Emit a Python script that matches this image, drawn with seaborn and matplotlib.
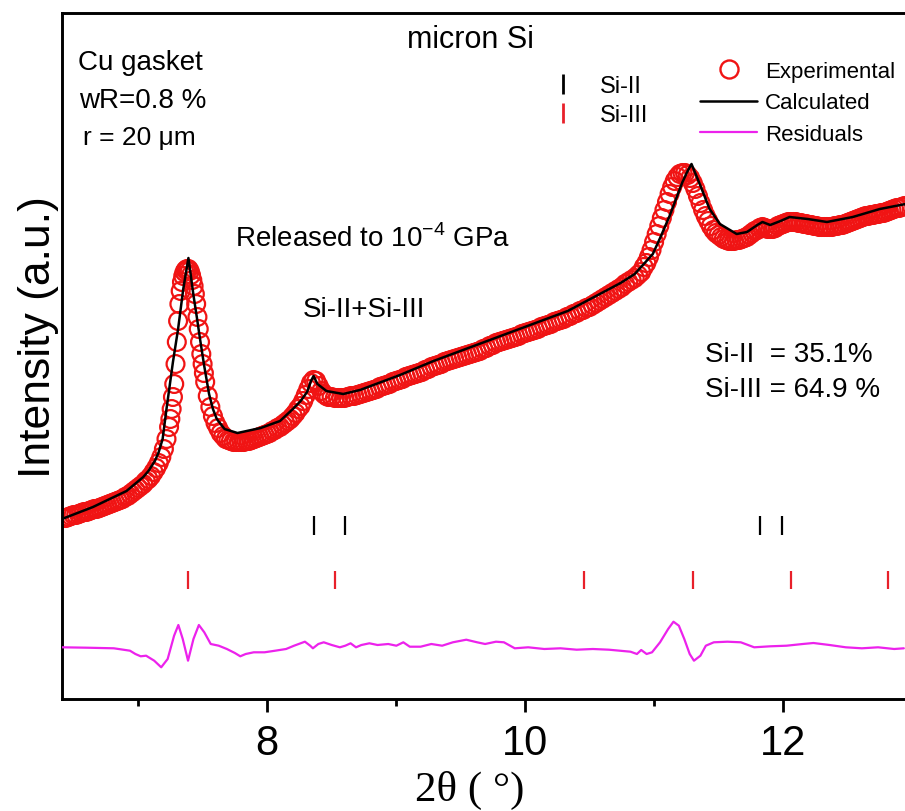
import matplotlib
matplotlib.use("Agg")
import matplotlib.pyplot as plt
import seaborn as sns
from matplotlib.lines import Line2D
from matplotlib.ticker import MultipleLocator

# ---------------- data ----------------
# Experimental pattern, read in segments (2theta in degrees, intensity in a.u.)
exp_theta_a = [6.42, 6.44, 6.46, 6.48, 6.50, 6.52, 6.54, 6.56, 6.58, 6.60, 6.62, 6.64, 6.66, 6.68,
               6.70, 6.72, 6.74, 6.76, 6.78, 6.80, 6.82, 6.84, 6.86, 6.88, 6.90, 6.92, 6.94, 6.96,
               6.98, 7.00, 7.02, 7.04, 7.06, 7.08, 7.10]
exp_int_a = [181, 181, 182, 183, 184, 184, 185, 186, 187, 187, 188, 189, 190, 190,
             191, 192, 193, 194, 195, 196, 197, 198, 199, 200, 202, 203, 205, 207,
             209, 211, 213, 215, 218, 220, 223]

exp_theta_b = [7.12, 7.14, 7.16, 7.18, 7.20, 7.22,
               7.24, 7.25, 7.26, 7.27, 7.28, 7.29, 7.30, 7.31, 7.32, 7.33, 7.34, 7.35, 7.36, 7.37,
               7.38, 7.39, 7.40, 7.41, 7.42, 7.43, 7.44, 7.45, 7.46, 7.47, 7.48, 7.49, 7.50, 7.51,
               7.52, 7.54, 7.56, 7.58, 7.60, 7.62, 7.64, 7.66, 7.68, 7.70]
exp_int_b = [227, 231, 236, 242, 250, 260,
             272, 280, 290, 302, 315, 335, 357, 378, 395, 408, 417, 423, 427, 429,
             430, 430, 428, 424, 419, 413, 405, 395, 382, 370, 357, 345, 335, 326,
             317, 303, 292, 283, 276, 271, 266, 263, 260, 259]

exp_theta_c = [7.72, 7.74, 7.76, 7.78, 7.80, 7.82, 7.84, 7.86, 7.88, 7.90, 7.92, 7.94, 7.96, 7.98,
               8.00, 8.02, 8.04, 8.06, 8.08, 8.10, 8.12, 8.14, 8.16, 8.18, 8.20, 8.22, 8.24]
exp_int_c = [258, 257, 257, 257, 257, 257, 258, 258, 259, 260, 261, 262, 263, 264,
             265, 266, 268, 269, 271, 272, 274, 276, 278, 280, 283, 286, 290]

exp_theta_d = [8.26, 8.28, 8.30, 8.32, 8.34, 8.36, 8.38, 8.40, 8.42, 8.44, 8.46]
exp_int_d = [293, 298, 304, 310, 316, 319, 318, 313, 308, 305, 303]

exp_theta_e = [8.475, 8.500, 8.525, 8.550, 8.575, 8.600, 8.625, 8.650, 8.675, 8.700,
               8.725, 8.750, 8.775, 8.800, 8.825, 8.850, 8.875, 8.900, 8.925, 8.950,
               8.975, 9.000, 9.025, 9.050, 9.075, 9.100, 9.125, 9.150, 9.175, 9.200,
               9.225, 9.250, 9.275, 9.300, 9.325, 9.350, 9.375, 9.400, 9.425, 9.450,
               9.475, 9.500, 9.525, 9.550, 9.575, 9.600, 9.625, 9.650, 9.675, 9.700,
               9.725, 9.750, 9.775, 9.800, 9.825, 9.850, 9.875, 9.900, 9.925, 9.950,
               9.975, 10.000, 10.025, 10.050, 10.075, 10.100, 10.125, 10.150, 10.175, 10.200,
               10.225, 10.250, 10.275, 10.300, 10.325, 10.350, 10.375, 10.400, 10.425, 10.450,
               10.475, 10.500, 10.525, 10.550, 10.575, 10.600, 10.625, 10.650, 10.675, 10.700,
               10.725, 10.750, 10.775, 10.800, 10.825, 10.850, 10.875, 10.900]
exp_int_e = [302, 302, 301, 301, 301, 301, 302, 303, 303, 304,
             305, 306, 307, 308, 309, 310, 312, 313, 314, 315,
             317, 318, 319, 320, 322, 323, 324, 325, 326, 327,
             329, 330, 332, 333, 334, 335, 337, 338, 339, 340,
             341, 342, 343, 344, 345, 346, 347, 348, 350, 351,
             353, 354, 356, 357, 358, 359, 360, 361, 362, 363,
             365, 366, 367, 368, 369, 370, 372, 373, 374, 375,
             377, 378, 379, 380, 382, 383, 385, 386, 388, 389,
             391, 392, 394, 396, 398, 400, 402, 404, 406, 408,
             410, 412, 415, 417, 419, 421, 424, 427]

exp_theta_f = [10.92, 10.94, 10.96, 10.98, 11.00, 11.02, 11.04, 11.06, 11.08, 11.10, 11.12, 11.14,
               11.16, 11.18, 11.20, 11.22, 11.24, 11.26, 11.28, 11.30, 11.32, 11.34, 11.36, 11.38,
               11.40, 11.42, 11.44, 11.46, 11.48, 11.50, 11.52, 11.54, 11.56, 11.58, 11.60]
exp_int_f = [432, 436, 442, 449, 457, 465, 473, 481, 489, 497, 505, 512,
             518, 522, 525, 526, 526, 524, 521, 516, 510, 503, 496, 489,
             483, 478, 473, 469, 466, 464, 462, 460, 459, 458, 458]

exp_theta_g = [11.62, 11.64, 11.66, 11.68, 11.70, 11.72, 11.74, 11.76, 11.78, 11.80, 11.82, 11.84,
               11.86, 11.88, 11.90, 11.92, 11.94, 11.96, 11.98, 12.00, 12.02, 12.04, 12.06, 12.08,
               12.10, 12.12, 12.14, 12.16, 12.18, 12.20, 12.22, 12.24, 12.26, 12.28, 12.30, 12.32,
               12.34, 12.36, 12.38, 12.40, 12.42, 12.44, 12.46, 12.48, 12.50, 12.52, 12.54, 12.56,
               12.58, 12.60, 12.62, 12.64, 12.66, 12.68, 12.70, 12.72, 12.74, 12.76, 12.78, 12.80,
               12.82, 12.84, 12.86, 12.88, 12.90, 12.92, 12.94]
exp_int_g = [458, 459, 459, 460, 461, 462, 464, 466, 468, 469, 471, 472,
             471, 470, 470, 470, 471, 473, 474, 475, 476, 477, 477, 477,
             477, 476, 476, 475, 475, 474, 474, 473, 473, 472, 472, 472,
             472, 472, 472, 473, 473, 474, 474, 475, 476, 477, 478, 479,
             480, 481, 482, 483, 483, 484, 484, 485, 485, 486, 486, 487,
             488, 489, 490, 491, 491, 492, 493]

calc_theta = [
    6.41, 6.45, 6.65, 6.91, 7.04, 7.08, 7.13, 7.16, 7.19, 7.22, 7.27, 7.31, 7.35, 7.39, 7.43, 7.455,
    7.48, 7.51, 7.53, 7.55, 7.58, 7.61, 7.67, 7.77, 7.95, 8.10, 8.20, 8.26, 8.31, 8.34, 8.36, 8.39,
    8.46, 8.59, 8.72, 9.03, 9.29, 9.81, 10.33, 10.74, 10.85, 10.92, 10.99, 11.05, 11.12, 11.17,
    11.22, 11.26, 11.29, 11.36, 11.43, 11.51, 11.64, 11.72, 11.80, 11.84, 11.90, 11.98, 12.05,
    12.19, 12.34, 12.54, 12.75, 12.95,
]
calc_intensity = [
    180, 182, 192, 208, 222, 228, 238, 247, 260, 290, 337, 370, 410, 441, 403, 382,
    360, 335, 320, 305, 290, 280, 270, 266, 271, 278, 290, 298, 307, 318, 323, 315,
    308, 305, 309, 324, 338, 363, 388, 416, 425, 435, 445, 462, 483, 500,
    517, 528, 535, 513, 490, 475, 465, 467, 474, 477, 474, 478, 482,
    480, 477, 482, 490, 495,
]

res_theta = [
    6.411, 6.603, 6.812, 6.937, 6.979, 7.020, 7.062, 7.125, 7.179, 7.229, 7.279, 7.312, 7.346,
    7.387, 7.429, 7.471, 7.513, 7.563, 7.625, 7.688, 7.750, 7.792, 7.834, 7.896, 7.980, 8.063,
    8.147, 8.209, 8.293, 8.334, 8.355, 8.397, 8.439, 8.501, 8.564, 8.606, 8.647, 8.689, 8.731,
    8.793, 8.856, 8.939, 9.002, 9.056, 9.106, 9.190, 9.273, 9.357, 9.440, 9.544, 9.628, 9.690,
    9.774, 9.836, 9.920, 10.024, 10.149, 10.274, 10.400, 10.525, 10.650, 10.733, 10.817, 10.867,
    10.900, 10.942, 10.984, 11.046, 11.109, 11.150, 11.192, 11.234, 11.276, 11.309, 11.359,
    11.401, 11.463, 11.568, 11.672, 11.776, 11.901, 12.027, 12.152, 12.235, 12.360, 12.486,
    12.611, 12.736, 12.861, 12.936,
]
res_intensity = [
    51.7, 51.3, 50.7, 48.3, 45.0, 42.7, 43.3, 38.3, 31.7, 40.0, 63.3, 74.0, 60.0,
    38.3, 60.0, 74.0, 66.7, 55.0, 53.3, 50.0, 46.0, 42.7, 45.0, 46.7, 46.7, 48.3,
    50.0, 53.3, 57.3, 53.3, 50.7, 55.0, 56.7, 54.0, 51.7, 53.3, 55.7, 51.7, 54.0,
    55.7, 54.0, 55.0, 53.3, 56.7, 52.3, 52.3, 55.0, 53.3, 56.7, 59.3, 56.7, 55.0,
    57.3, 56.7, 50.7, 51.7, 50.0, 50.7, 49.3, 50.0, 49.3, 48.3, 47.3, 45.0,
    49.0, 45.0, 46.7, 56.7, 70.0, 77.3, 73.3, 60.0, 45.0, 38.3, 43.3,
    53.3, 56.7, 57.3, 56.7, 51.7, 52.7, 53.3, 55.0, 56.0, 54.0, 51.7,
    50.7, 51.7, 50.0, 50.7,
]

si2_positions = [8.36, 8.60, 11.82, 11.99]
si3_positions = [7.39, 8.53, 10.46, 11.30, 12.06, 12.81]

exp_theta = (exp_theta_a + exp_theta_b + exp_theta_c + exp_theta_d
             + exp_theta_e + exp_theta_f + exp_theta_g)
exp_intensity = (exp_int_a + exp_int_b + exp_int_c + exp_int_d
                 + exp_int_e + exp_int_f + exp_int_g)

RED = "#f01414"
MAGENTA = "#ec22ec"
RED_TICK = "#e8202a"

# ---------------- figure ----------------
sns.set_style("ticks")
plt.rcParams["font.family"] = ["Liberation Sans", "DejaVu Sans"]
plt.rcParams["mathtext.fontset"] = "custom"
plt.rcParams["mathtext.rm"] = "Liberation Sans"
plt.rcParams["text.color"] = "black"
plt.rcParams["axes.labelcolor"] = "black"
plt.rcParams["xtick.color"] = "black"
plt.rcParams["ytick.color"] = "black"

fig = plt.figure(figsize=(9.05, 8.12), dpi=100)
ax = fig.add_axes([62 / 905, 112 / 812, 843 / 905, 686 / 812])

sns.scatterplot(x=exp_theta, y=exp_intensity, ax=ax, marker="o", s=165,
                facecolor="none", edgecolor=RED, linewidth=1.6, zorder=2, legend=False)
sns.lineplot(x=calc_theta, y=calc_intensity, ax=ax, color="black", linewidth=1.8,
             zorder=3, estimator=None)
sns.lineplot(x=res_theta, y=res_intensity, ax=ax, color=MAGENTA, linewidth=1.6,
             zorder=3, estimator=None)

ax.vlines(si2_positions, 164, 183, color="black", linewidth=1.6)
ax.vlines(si3_positions, 110, 128, color=RED_TICK, linewidth=1.6)

ax.set_xlim(6.41, 12.945)
ax.set_ylim(0, 686)
ax.set_yticks([])
ax.xaxis.set_major_locator(MultipleLocator(2))
ax.xaxis.set_minor_locator(MultipleLocator(1))
ax.tick_params(axis="x", which="major", length=9.5, width=2, labelsize=30, direction="out",
               pad=8, colors="black")
ax.tick_params(axis="x", which="minor", length=5, width=2, direction="out", colors="black")
for side in ["top", "left", "bottom"]:
    ax.spines[side].set_linewidth(2.1)
    ax.spines[side].set_color("black")
ax.spines["right"].set_visible(False)

ax.set_ylabel("Intensity (a.u.)", fontsize=32, color="black")
ax.yaxis.set_label_coords(-0.004, 0.529)
ax.set_xlabel("2θ ( °)", fontsize=31, family=["Liberation Serif", "DejaVu Serif"], color="black")
ax.xaxis.set_label_coords(0.484, -0.104)

# annotations
ax.text(0.019, 0.918, "Cu gasket", transform=ax.transAxes, fontsize=20)
ax.text(0.020, 0.863, "wR=0.8 %", transform=ax.transAxes, fontsize=20)
ax.text(0.025, 0.809, "r = 20 μm", transform=ax.transAxes, fontsize=19)
ax.text(0.409, 0.950, "micron Si", transform=ax.transAxes, fontsize=22)
ax.text(0.205, 0.660, "Released to 10$^{-4}$ GPa", transform=ax.transAxes, fontsize=20)
ax.text(0.286, 0.558, "Si-II+Si-III", transform=ax.transAxes, fontsize=20)
ax.text(0.763, 0.493, "Si-II  = 35.1%", transform=ax.transAxes, fontsize=20)
ax.text(0.763, 0.442, "Si-III = 64.9 %", transform=ax.transAxes, fontsize=20)

# legends
h1 = [Line2D([], [], marker="o", ls="none", ms=13, mfc="none", mec=RED, mew=1.7),
      Line2D([], [], color="black", lw=1.8),
      Line2D([], [], color=MAGENTA, lw=1.6)]
leg1 = ax.legend(h1, ["Experimental", "Calculated", "Residuals"], loc="upper left",
                 bbox_to_anchor=(0.757, 0.930), frameon=False, fontsize=16,
                 handlelength=2.57, handletextpad=0.36, labelspacing=0.47,
                 borderpad=0, borderaxespad=0)
ax.add_artist(leg1)
h2 = [Line2D([], [], marker="|", ls="none", ms=14, mew=2, color="black"),
      Line2D([], [], marker="|", ls="none", ms=14, mew=2, color=RED_TICK)]
ax.legend(h2, ["Si-II", "Si-III"], loc="upper left", bbox_to_anchor=(0.580, 0.909),
          frameon=False, fontsize=17, handlelength=1.0, handletextpad=1.06,
          labelspacing=0.29, borderpad=0, borderaxespad=0)

fig.savefig("out.png", dpi=100)
